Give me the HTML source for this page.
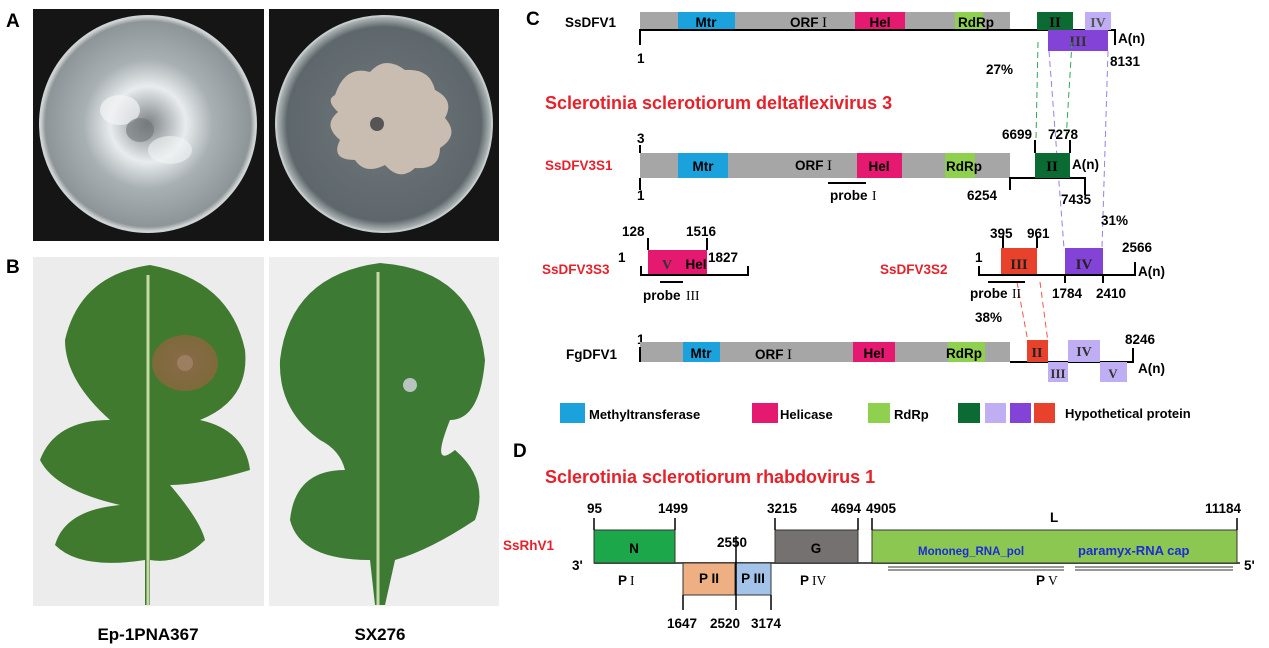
<!DOCTYPE html>
<html><head><meta charset="utf-8"><style>
html,body{margin:0;padding:0;background:#fff}
svg{display:block}
text{font-family:"Liberation Sans",Arial,sans-serif}
.b{font-weight:bold}
.s{font-family:"Liberation Serif",serif;font-weight:bold}
.m{font-weight:bold}
</style></head><body>
<svg width="1269" height="648" viewBox="0 0 1269 648" xmlns="http://www.w3.org/2000/svg">
<defs>
<radialGradient id="d1" cx="50%" cy="50%" r="50%"><stop offset="0" stop-color="#7c8285"/><stop offset="0.35" stop-color="#e8ecee"/><stop offset="0.6" stop-color="#a9b0b3"/><stop offset="0.95" stop-color="#8e9598"/><stop offset="1" stop-color="#d8dcdc"/></radialGradient>
<radialGradient id="d2" cx="50%" cy="50%" r="50%"><stop offset="0" stop-color="#6f777b"/><stop offset="0.9" stop-color="#5e676b"/><stop offset="1" stop-color="#b9c0c0"/></radialGradient>
<radialGradient id="lesion" cx="50%" cy="50%" r="50%"><stop offset="0" stop-color="#8a6a4a"/><stop offset="1" stop-color="#7d6a3a"/></radialGradient>
</defs>
<text x="6" y="27" class="b" font-size="19">A</text>
<rect x="33" y="9" width="231" height="232" fill="#151515"/>
<ellipse cx="148" cy="124" rx="108" ry="108" fill="url(#d1)" stroke="#cfd3d3" stroke-width="2"/>
<ellipse cx="120" cy="110" rx="20" ry="15" fill="#f2f4f4" opacity="0.7"/>
<ellipse cx="170" cy="150" rx="22" ry="14" fill="#f2f4f4" opacity="0.6"/>
<ellipse cx="140" cy="130" rx="14" ry="12" fill="#6f7578" opacity="0.6"/>
<rect x="269" y="9" width="230" height="232" fill="#151515"/>
<ellipse cx="384" cy="124" rx="108" ry="108" fill="url(#d2)" stroke="#c5cccc" stroke-width="2"/>
<path d="M335 95 Q345 65 370 72 Q385 55 405 70 Q430 68 435 90 Q455 100 445 118 Q460 135 440 148 Q440 170 415 168 Q400 182 385 165 Q365 175 355 160 Q330 160 340 140 Q322 125 338 112 Q325 100 335 95Z" fill="#c9bcb0"/>
<circle cx="377" cy="124" r="7" fill="#555"/>
<text x="6" y="273" class="b" font-size="19">B</text>
<rect x="33" y="257" width="231" height="349" fill="#ececec"/>
<rect x="269" y="257" width="230" height="349" fill="#eeeeee"/>
<path d="M150 265 Q230 280 245 350 Q250 400 200 420 Q245 430 250 470 Q200 485 170 485 Q200 520 205 540 Q180 565 150 560 L150 605 L145 605 L145 560 Q80 570 55 545 Q65 510 120 505 Q55 490 40 460 Q55 420 110 420 Q65 380 65 340 Q80 275 150 265Z" fill="#3f7a2e"/>
<ellipse cx="185" cy="363" rx="33" ry="28" fill="url(#lesion)"/>
<circle cx="185" cy="363" r="8" fill="#9a8060"/>
<line x1="148" y1="275" x2="148" y2="605" stroke="#c8d9a8" stroke-width="3"/>
<path d="M380 263 Q475 270 485 360 Q480 420 450 420 Q430 470 455 450 Q490 480 475 520 Q430 550 395 560 L385 605 L375 605 L370 560 Q300 560 290 520 Q295 470 345 470 Q340 450 320 440 Q278 410 280 360 Q290 275 380 263Z" fill="#3d7a33"/>
<line x1="378" y1="272" x2="378" y2="605" stroke="#c8d9a8" stroke-width="3"/>
<circle cx="410" cy="385" r="7" fill="#b8c4c0"/>
<text x="148" y="640" class="b" font-size="17" text-anchor="middle">Ep-1PNA367</text>
<text x="380" y="640" class="b" font-size="17" text-anchor="middle">SX276</text>

<text x="526" y="25" class="b" font-size="19">C</text>
<g font-size="13.5" font-weight="bold">
<text x="565" y="27">SsDFV1</text>
<rect x="640" y="12" width="370" height="18" fill="#a6a6a6"/>
<rect x="678" y="12" width="57" height="18" fill="#1ba1dc"/>
<text x="706" y="27" text-anchor="middle">Mtr</text>
<text x="790" y="27">ORF</text><text x="822" y="27" class="s" font-size="15" style="font-weight:normal">I</text>
<rect x="855" y="12" width="50" height="18" fill="#e5196f"/>
<text x="880" y="27" text-anchor="middle">Hel</text>
<rect x="955" y="12" width="28" height="18" fill="#8fd04e"/>
<text x="958" y="27">RdRp</text>
<path d="M640 45 V30 H1115 V45" fill="none" stroke="#000" stroke-width="2"/>
<rect x="1037" y="12" width="36" height="18" fill="#0b6b33"/>
<text x="1055" y="27" class="s" text-anchor="middle" font-size="15">II</text>
<rect x="1085" y="12" width="26" height="18" fill="#c0aef5"/>
<text x="1098" y="27" class="s" text-anchor="middle" font-size="14" fill="#555">IV</text>
<rect x="1048" y="30" width="60" height="21" fill="#8343d6"/>
<text x="1078" y="46" class="s" text-anchor="middle" font-size="15" fill="#333">III</text>
<text x="1118" y="43">A(n)</text>
<text x="637" y="63" class="b">1</text>
<text x="1110" y="66" class="b">8131</text>
<text x="986" y="74" class="b">27%</text>
<g stroke-dasharray="6,4" stroke-width="1">
<line x1="1038" y1="42" x2="1036" y2="140" stroke="#2fa855"/>
<line x1="1072" y1="42" x2="1066" y2="140" stroke="#2fa855"/>
<line x1="1049" y1="51" x2="1064" y2="248" stroke="#9a7de8"/>
<line x1="1108" y1="51" x2="1102" y2="248" stroke="#9a7de8"/>
<line x1="1017" y1="282" x2="1028" y2="342" stroke="#ef5a4a"/>
<line x1="1040" y1="282" x2="1048" y2="342" stroke="#ef5a4a"/>
</g>
<text x="545" y="109" class="b" font-size="18" fill="#e8202a">Sclerotinia sclerotiorum deltaflexivirus 3</text>
<text x="637" y="143" class="b">3</text>
<line x1="640" y1="145" x2="640" y2="153" stroke="#000" stroke-width="2"/>
<text x="545" y="170" fill="#e8202a">SsDFV3S1</text>
<rect x="640" y="153" width="370" height="25" fill="#a6a6a6"/>
<rect x="678" y="153" width="50" height="25" fill="#1ba1dc"/>
<text x="703" y="171" text-anchor="middle">Mtr</text>
<text x="795" y="170">ORF</text><text x="827" y="170" class="s" font-size="15" style="font-weight:normal">I</text>
<rect x="857" y="153" width="45" height="25" fill="#e5196f"/>
<text x="879" y="171" text-anchor="middle">Hel</text>
<rect x="945" y="153" width="30" height="25" fill="#8fd04e"/>
<text x="946" y="171">RdRp</text>
<path d="M640 190 V178 M1010 190 V178 H1085 V195" fill="none" stroke="#000" stroke-width="2"/>
<rect x="1035" y="153" width="35" height="25" fill="#0b6b33"/>
<text x="1052" y="171" class="s" text-anchor="middle" font-size="15">II</text>
<path d="M1035 153 V140 M1070 153 V140" stroke="#000" stroke-width="2"/>
<text x="1002" y="139" class="b">6699</text>
<text x="1048" y="139" class="b">7278</text>
<text x="1072" y="169">A(n)</text>
<text x="637" y="200" class="b">1</text>
<text x="967" y="200" class="b">6254</text>
<text x="1061" y="204" class="b">7435</text>
<line x1="828" y1="183" x2="866" y2="183" stroke="#000" stroke-width="2"/>
<text x="830" y="200">probe</text><text x="872" y="200" class="s" style="font-weight:normal">I</text>
<text x="1101" y="225" class="b">31%</text>
<text x="542" y="274" fill="#e8202a">SsDFV3S3</text>
<text x="622" y="236" class="b">128</text>
<text x="686" y="236" class="b">1516</text>
<text x="618" y="262" class="b">1</text>
<rect x="648" y="250" width="59" height="25" fill="#e5196f"/>
<path d="M648 250 V238 M707 250 V238" stroke="#000" stroke-width="2"/>
<text x="662" y="269" class="s" font-size="14" fill="#333">V</text>
<text x="696" y="269" text-anchor="middle">Hel</text>
<path d="M641 266 V275 H748 V266" fill="none" stroke="#000" stroke-width="2"/>
<text x="708" y="262" class="b">1827</text>
<line x1="660" y1="282" x2="683" y2="282" stroke="#000" stroke-width="2"/>
<text x="643" y="300">probe</text><text x="686" y="300" class="s" style="font-weight:normal">III</text>
<text x="880" y="274" fill="#e8202a">SsDFV3S2</text>
<text x="975" y="262" class="b">1</text>
<rect x="1001" y="248" width="36" height="27" fill="#e8412c"/>
<text x="1019" y="269" class="s" text-anchor="middle" font-size="15" fill="#222">III</text>
<path d="M1003 248 V236 M1037 248 V236" stroke="#000" stroke-width="2"/>
<text x="990" y="238" class="b">395</text>
<text x="1027" y="238" class="b">961</text>
<rect x="1065" y="248" width="38" height="27" fill="#8343d6"/>
<text x="1084" y="269" class="s" text-anchor="middle" font-size="15" fill="#222">IV</text>
<path d="M979 266 V275 H1135 V262 M1065 275 V283 M1103 275 V283" fill="none" stroke="#000" stroke-width="2"/>
<text x="1122" y="252" class="b">2566</text>
<text x="1138" y="276">A(n)</text>
<line x1="988" y1="282" x2="1025" y2="282" stroke="#000" stroke-width="2"/>
<text x="970" y="298">probe</text><text x="1012" y="298" class="s" style="font-weight:normal">II</text>
<text x="1052" y="298" class="b">1784</text>
<text x="1096" y="298" class="b">2410</text>
<text x="975" y="322" class="b">38%</text>
<text x="637" y="344" class="b">1</text>
<text x="566" y="359">FgDFV1</text>
<rect x="640" y="342" width="370" height="20" fill="#a6a6a6"/>
<line x1="640" y1="347" x2="640" y2="362" stroke="#000" stroke-width="2"/>
<rect x="683" y="342" width="37" height="20" fill="#1ba1dc"/>
<text x="701" y="358" text-anchor="middle">Mtr</text>
<text x="755" y="359">ORF</text><text x="787" y="359" class="s" font-size="15" style="font-weight:normal">I</text>
<rect x="853" y="342" width="42" height="20" fill="#e5196f"/>
<text x="874" y="358" text-anchor="middle">Hel</text>
<rect x="948" y="342" width="37" height="20" fill="#8fd04e"/>
<text x="946" y="358">RdRp</text>
<path d="M1010 362 H1133 V348" fill="none" stroke="#000" stroke-width="2"/>
<rect x="1027" y="340" width="21" height="22" fill="#e8412c"/>
<text x="1037" y="357" class="s" text-anchor="middle" font-size="14" fill="#222">II</text>
<rect x="1048" y="362" width="20" height="20" fill="#c0aef5"/>
<text x="1058" y="378" class="s" text-anchor="middle" font-size="13" fill="#333">III</text>
<rect x="1068" y="340" width="32" height="22" fill="#c0aef5"/>
<text x="1084" y="356" class="s" text-anchor="middle" font-size="14" fill="#333">IV</text>
<rect x="1100" y="362" width="27" height="20" fill="#c0aef5"/>
<text x="1113" y="378" class="s" text-anchor="middle" font-size="13" fill="#333">V</text>
<text x="1125" y="344" class="b">8246</text>
<text x="1138" y="373">A(n)</text>
<g font-size="13">
<rect x="560" y="403" width="25" height="20" fill="#1ba1dc"/>
<text x="589" y="419">Methyltransferase</text>
<rect x="752" y="403" width="26" height="20" fill="#e5196f"/>
<text x="780" y="419">Helicase</text>
<rect x="868" y="403" width="22" height="20" fill="#8fd04e"/>
<text x="894" y="419">RdRp</text>
<rect x="958" y="403" width="22" height="20" fill="#0b6b33"/>
<rect x="985" y="403" width="21" height="20" fill="#c0aef5"/>
<rect x="1010" y="403" width="21" height="20" fill="#8343d6"/>
<rect x="1034" y="403" width="21" height="20" fill="#e8412c"/>
<text x="1065" y="418">Hypothetical protein</text>
</g>
</g>

<g font-size="13.5" font-weight="bold">
<text x="513" y="457" class="b" font-size="19">D</text>
<text x="545" y="483" class="b" font-size="18" fill="#e8202a">Sclerotinia sclerotiorum rhabdovirus 1</text>
<text x="503" y="550" fill="#e8202a">SsRhV1</text>
<text x="572" y="570" class="b">3'</text>
<text x="1244" y="570" class="b">5'</text>
<line x1="594" y1="563" x2="1240" y2="563" stroke="#555" stroke-width="2"/>
<rect x="594" y="530" width="81" height="33" fill="#1da74b" stroke="#333"/>
<text x="634" y="553" text-anchor="middle">N</text>
<rect x="683" y="563" width="52" height="32" fill="#eeaf82" stroke="#333"/>
<text x="709" y="583" text-anchor="middle">P II</text>
<rect x="735" y="563" width="36" height="32" fill="#a3c4e8" stroke="#333"/>
<text x="753" y="583" text-anchor="middle">P III</text>
<rect x="775" y="530" width="83" height="33" fill="#757170" stroke="#333"/>
<text x="816" y="553" text-anchor="middle">G</text>
<rect x="872" y="530" width="365" height="33" fill="#8cc751" stroke="#333"/>
<text x="1050" y="522">L</text>
<g stroke="#000" stroke-width="1.5">
<line x1="594" y1="530" x2="594" y2="518"/><line x1="675" y1="530" x2="675" y2="518"/>
<line x1="775" y1="530" x2="775" y2="518"/><line x1="858" y1="530" x2="858" y2="518"/>
<line x1="872" y1="530" x2="872" y2="518"/><line x1="1237" y1="530" x2="1237" y2="518"/>
<line x1="736" y1="536" x2="736" y2="610"/>
<line x1="683" y1="595" x2="683" y2="610"/><line x1="771" y1="595" x2="771" y2="610"/>
</g>
<text x="587" y="513" class="b">95</text>
<text x="658" y="513" class="b">1499</text>
<text x="767" y="513" class="b">3215</text>
<text x="831" y="513" class="b">4694</text>
<text x="866" y="513" class="b">4905</text>
<text x="1205" y="513" class="b">11184</text>
<text x="717" y="547" class="b">2550</text>
<text x="918" y="555" font-size="11.5" fill="#1a2bd8">Mononeg_RNA_pol</text>
<text x="1078" y="555" font-size="13" fill="#1a2bd8">paramyx-RNA cap</text>
<g stroke="#333" stroke-width="1">
<line x1="888" y1="567" x2="1064" y2="567"/><line x1="888" y1="570" x2="1064" y2="570"/>
<line x1="1075" y1="567" x2="1233" y2="567"/><line x1="1075" y1="570" x2="1233" y2="570"/>
</g>
<text x="618" y="585">P</text><text x="630" y="585" class="s" style="font-weight:normal">I</text>
<text x="800" y="585">P</text><text x="812" y="585" class="s" style="font-weight:normal">IV</text>
<text x="1036" y="585">P</text><text x="1048" y="585" class="s" style="font-weight:normal">V</text>
<text x="667" y="628" class="b">1647</text>
<text x="710" y="628" class="b">2520</text>
<text x="751" y="628" class="b">3174</text>
</g>
</svg>
</body></html>
